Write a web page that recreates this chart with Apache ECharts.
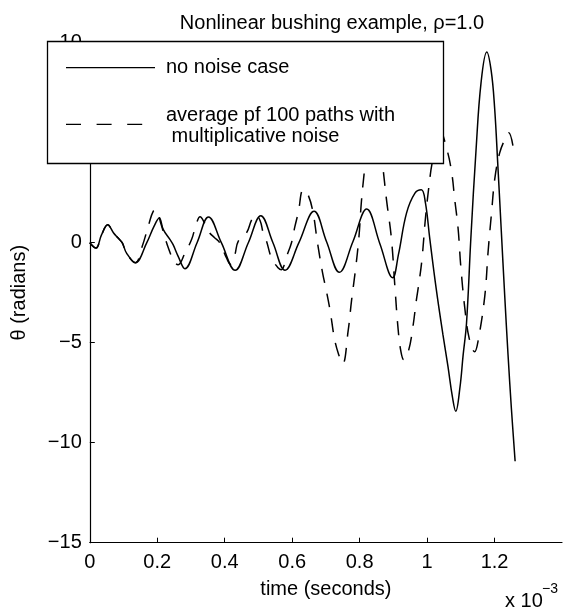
<!DOCTYPE html>
<html><head><meta charset="utf-8">
<script src="https://cdn.jsdelivr.net/npm/echarts@6/dist/echarts.min.js"></script>
<style>html,body{margin:0;padding:0;background:#fff}#c{width:567px;height:614px}</style>
</head><body><div id="c"></div>
<script>
// ---- data (time in units of 1e-3 s, theta in radians) ----
const xTickValues = [0, 0.2, 0.4, 0.6, 0.8, 1, 1.2];
const yTickValues = [-15, -10, -5, 0, 5, 10];

const tSolid = [0, 0.018, 0.035, 0.053, 0.07, 0.084, 0.096, 0.109, 0.135, 0.169, 0.19, 0.206, 0.218, 0.238, 0.247, 0.262, 0.282,
  0.318, 0.352, 0.39, 0.431, 0.47, 0.507, 0.543, 0.579, 0.62, 0.665, 0.702, 0.74, 0.78, 0.821, 0.86, 0.898,
  0.915, 0.939, 0.964, 0.983, 0.995, 1.008, 1.027, 1.047, 1.062, 1.075, 1.085, 1.097, 1.107, 1.117, 1.13, 1.145, 1.16, 1.177,
  1.19, 1.2, 1.21, 1.22, 1.23, 1.24, 1.25, 1.261];
const thetaSolid = [0, -0.27, 0.4, 0.9, 0.5, 0.23, 0.0, -0.52, -1.0, 0.0, 0.8, 1.23, 0.65, 0.15, -0.1, -0.68, -1.3,
  0.0, 1.28, 0.0, -1.38, 0.0, 1.35, 0.0, -1.38, 0.0, 1.57, 0.05, -1.48, 0.05, 1.68, -0.05, -1.75,
  -0.6, 1.48, 2.48, 2.65, 2.0, 0.2, -2.3, -4.6, -6.2, -7.7, -8.43, -7.3, -5.6, -4.0, 0.3, 4.6, 8.0, 9.53,
  8.6, 6.8, 3.8, 0.6, -2.6, -5.6, -8.3, -10.93];

const tDashed = [0, 0.018, 0.035, 0.053, 0.07, 0.084, 0.096, 0.109, 0.135, 0.155, 0.176, 0.188, 0.197, 0.21, 0.233, 0.252, 0.262,
  0.282, 0.302, 0.315, 0.327, 0.34, 0.355, 0.37, 0.385, 0.405, 0.417, 0.43, 0.44, 0.465, 0.48, 0.492, 0.505, 0.514, 0.524,
  0.539, 0.559, 0.568, 0.583, 0.598, 0.608, 0.618, 0.633, 0.647, 0.662, 0.675, 0.69, 0.70, 0.712, 0.726, 0.738, 0.75,
  0.766, 0.776, 0.788, 0.798, 0.805, 0.813, 0.825, 0.841, 0.857, 0.868, 0.88, 0.894, 0.905, 0.914, 0.922, 0.931,
  0.945, 0.958, 0.968, 0.976, 0.985, 0.995, 1.006, 1.015, 1.037, 1.059, 1.073, 1.082, 1.092, 1.1, 1.112, 1.125, 1.141,
  1.151, 1.171, 1.181, 1.191, 1.201, 1.215, 1.23, 1.242, 1.256];
const thetaDashed = [0, -0.27, 0.4, 0.9, 0.5, 0.23, 0.0, -0.52, -1.0, -0.2, 0.98, 1.57, 1.65, 1.0, -0.27, -1.0, -1.1,
  -0.52, 0.17, 0.9, 1.3, 1.0, 0.5, 0.25, 0.0, -0.75, -1.08, -0.6, 0.07, 0.5, 1.15, 1.4, 1.1, 0.5, 0.07,
  -0.77, -1.27, -1.35, -0.7, 0.0, 0.8, 1.5, 2.65, 2.4, 1.5, 0.0, -1.5, -2.3, -3.35, -4.85, -5.6, -6.05,
  -4.4, -2.9, -1.3, 0.3, 2.0, 3.4, 5.3, 6.2, 5.3, 3.9, 2.1, 0.25, -2.3, -4.3, -5.4, -5.85,
  -5.4, -4.2, -2.9, -2.0, -0.8, 1.2, 2.9, 4.0, 5.7, 4.65, 3.5, 2.15, 0.7, -1.2, -3.3, -4.8, -5.45,
  -4.93, -2.68, -0.43, 1.48, 3.23, 4.48, 5.15, 5.5, 4.7];

const titleText = 'Nonlinear bushing example, \u03c1=1.0';
const xName = 'time (seconds)';
const yName = '\u03b8 (radians)';
const legendSolid = 'no noise case';
const legendDashed1 = 'average pf 100 paths with';
const legendDashed2 = ' multiplicative noise';

// ---- chart ----
const FONT = 'Liberation Sans';
const FS = 20;
const zip = (a, b) => a.map((v, i) => [v, b[i]]);
const fmt = v => (v < 0 ? '\u2212' + Math.abs(v) : String(v));

const chart = echarts.init(document.getElementById('c'), null, { renderer: 'canvas' });
chart.setOption({
  backgroundColor: '#fff',
  animation: false,
  title: {
    text: titleText, left: 327, top: 8, textAlign: 'center',
    textStyle: { fontFamily: FONT, fontSize: FS, fontWeight: 'normal', color: '#000' }
  },
  grid: { left: 89.8, right: 5, top: 42.7, bottom: 71.3, containLabel: false },
  xAxis: {
    type: 'value', min: 0, max: 1.4, interval: 0.2,
    name: xName, nameLocation: 'middle', nameGap: 37,
    nameTextStyle: { fontFamily: FONT, fontSize: FS, color: '#000' },
    axisLine: { show: true, onZero: false, lineStyle: { color: '#000', width: 1.2 } },
    axisTick: { show: true, inside: true, length: 5, lineStyle: { color: '#000' }, customValues: xTickValues },
    axisLabel: { fontFamily: FONT, fontSize: FS, color: '#000', margin: 10, formatter: fmt, customValues: xTickValues },
    splitLine: { show: false }
  },
  yAxis: {
    type: 'value', min: -15, max: 10, interval: 5,
    name: yName, nameLocation: 'middle', nameGap: 60, nameRotate: 90,
    nameTextStyle: { fontFamily: FONT, fontSize: FS, color: '#000' },
    axisLine: { show: true, onZero: false, lineStyle: { color: '#000', width: 1.2 } },
    axisTick: { show: true, inside: true, length: 5, lineStyle: { color: '#000' }, customValues: yTickValues },
    axisLabel: { fontFamily: FONT, fontSize: FS, color: '#000', margin: 8, formatter: fmt, customValues: yTickValues },
    splitLine: { show: false }
  },
  series: [
    {
      name: legendSolid, type: 'line', data: zip(tSolid, thetaSolid),
      symbol: 'none', smooth: 0.4,
      lineStyle: { color: '#000', width: 1.5, type: 'solid' }, z: 3
    },
    {
      name: legendDashed1 + '\n' + legendDashed2, type: 'line', data: zip(tDashed, thetaDashed),
      symbol: 'none', smooth: 0.4,
      lineStyle: { color: '#000', width: 1.5, type: [14, 11] }, z: 2
    }
  ],
  graphic: [
    { type: 'rect', z: 100, shape: { x: 47.5, y: 41.5, width: 396, height: 122 },
      style: { fill: '#fff', stroke: '#000', lineWidth: 1.3 } },
    { type: 'line', z: 101, shape: { x1: 66, y1: 67.7, x2: 155, y2: 67.7 },
      style: { stroke: '#000', lineWidth: 1.3 } },
    { type: 'text', z: 101, x: 166, y: 67, style: { text: legendSolid, font: FS + 'px "' + FONT + '"', fill: '#000', verticalAlign: 'middle' } },
    { type: 'line', z: 101, shape: { x1: 66, y1: 124.3, x2: 142.3, y2: 124.3 },
      style: { stroke: '#000', lineWidth: 1.3, lineDash: [15, 15.6] } },
    { type: 'text', z: 101, x: 166, y: 115.5, style: { text: legendDashed1, font: FS + 'px "' + FONT + '"', fill: '#000', verticalAlign: 'middle' } },
    { type: 'text', z: 101, x: 166, y: 136, style: { text: legendDashed2, font: FS + 'px "' + FONT + '"', fill: '#000', verticalAlign: 'middle' } },
    { type: 'text', z: 101, x: 505, y: 601, style: { text: 'x 10', font: FS + 'px "' + FONT + '"', fill: '#000', verticalAlign: 'middle' } },
    { type: 'text', z: 101, x: 542, y: 589, style: { text: '\u22123', font: '14px "' + FONT + '"', fill: '#000', verticalAlign: 'middle' } }
  ]
});
</script>
</body></html>
